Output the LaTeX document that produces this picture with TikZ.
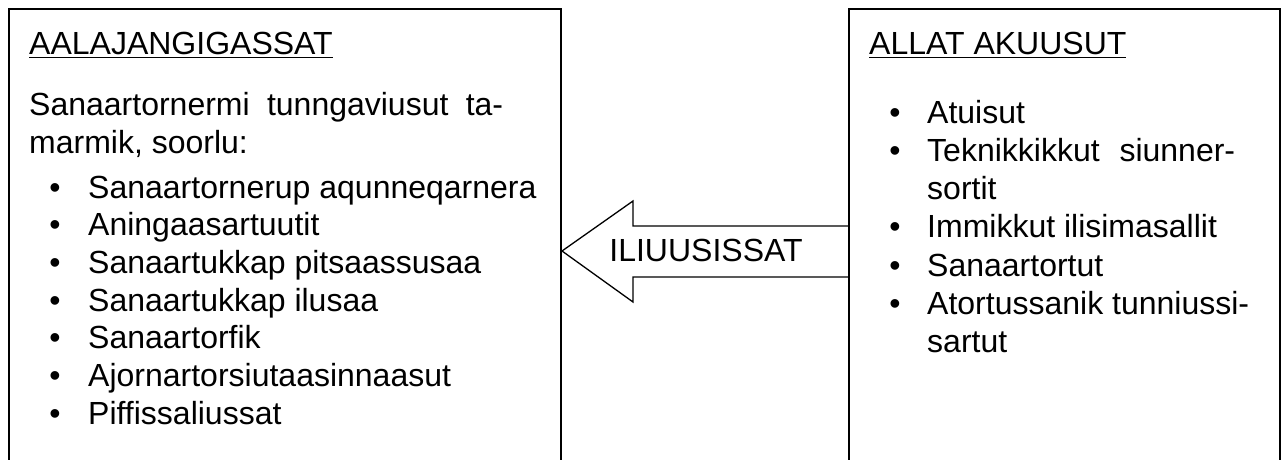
\documentclass[tikz,border=0pt]{standalone}
\usepackage{fontspec}
\setmainfont{Liberation Sans}
\begin{document}
\begin{tikzpicture}[x=1pt,y=-1pt,
  txt/.style={anchor=base west,inner sep=0pt,font=\fontsize{32}{38.4}\selectfont},
  bul/.style={anchor=base,inner sep=0pt,font=\fontsize{32}{38.4}\selectfont},
  boxline/.style={line width=2pt},
  arrowline/.style={line width=1.3pt,line join=miter}]
\useasboundingbox (0,0) rectangle (1283,460);
% boxes open at the bottom
\draw[boxline] (9,462) -- (9,9) -- (561,9) -- (561,462);
\draw[boxline] (849,462) -- (849,9) -- (1280,9) -- (1280,462);
% left box
\node[txt] (lt) at (29,55) {\underline{AALAJANGIGASSAT}};
\node[txt] (l1) at (29,115) {\makebox[474pt][s]{Sanaartornermi tunngaviusut ta-}};
\node[txt] (l2) at (29,153) {marmik, soorlu:};
\foreach \t [count=\i] in {Sanaartornerup aqunneqarnera,Aningaasartuutit,Sanaartukkap pitsaassusaa,Sanaartukkap ilusaa,Sanaartorfik,Ajornartorsiutaasinnaasut,Piffissaliussat}{
  \node[bul] (lb\i) at (55,160.3+37.7*\i) {•};
  \node[txt] (li\i) at (88,160.3+37.7*\i) {\t};
}
% right box
\node[txt] (rt) at (869,55) {\underline{ALLAT AKUUSUT}};
\node[bul] (rb1) at (895,123) {•};
\node[txt] (ri1) at (927,123) {Atuisut};
\node[bul] (rb2) at (895,161.3) {•};
\node[txt] (ri2) at (927,161.3) {\makebox[308pt][s]{Teknikkikkut siunner-}};
\node[txt] (ri2b) at (927,199.6) {sortit};
\node[bul] (rb3) at (895,237.9) {•};
\node[txt] (ri3) at (927,237.9) {Immikkut ilisimasallit};
\node[bul] (rb4) at (895,276.2) {•};
\node[txt] (ri4) at (927,276.2) {Sanaartortut};
\node[bul] (rb5) at (895,314.5) {•};
\node[txt] (ri5) at (927,314.5) {Atortussanik tunniussi-};
\node[txt] (ri5b) at (927,352.8) {sartut};
% block arrow
\coordinate (tip) at (562,251);
\draw[arrowline] (849,226) -- (633,226) -- (633,201) -- (tip) -- (633,302) -- (633,277) -- (849,277);
\node[txt,anchor=base] (arr) at (706,261) {ILIUUSISSAT};
\end{tikzpicture}
\end{document}
